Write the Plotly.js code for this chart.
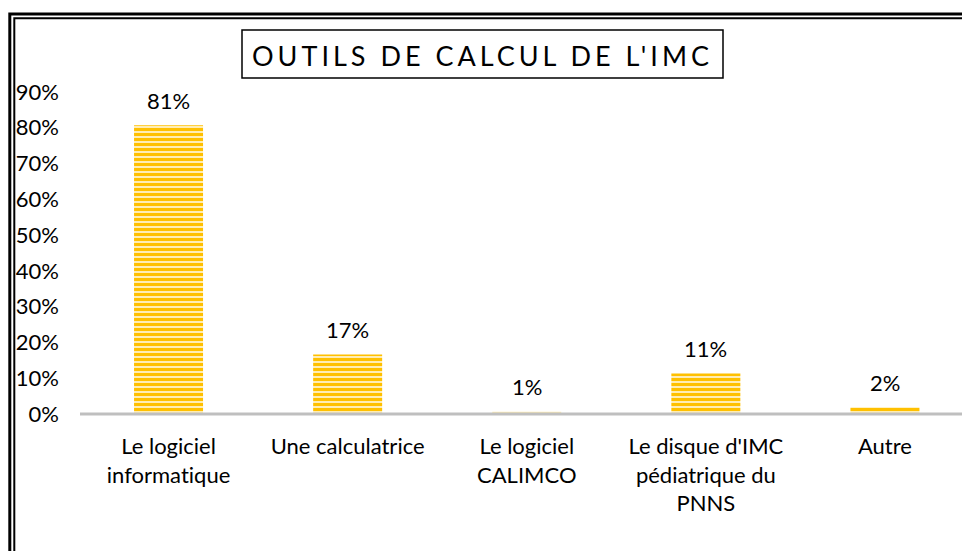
<!DOCTYPE html>
<html>
<head>
<meta charset="utf-8">
<script src="https://cdn.plot.ly/plotly-3.0.1.min.js"></script>
<style>
  html, body { margin: 0; padding: 0; background: #fff; }
  #chart { width: 962px; height: 551px; }
  #chart text { font-variant-ligatures: none; font-feature-settings: "liga" 0, "dlig" 0, "clig" 0; }
  g.annotation[data-index="0"] text { letter-spacing: 4px; }
</style>
</head>
<body>
<div id="chart"></div>
<script>
// ---- data ----
const categories = [
  "Le logiciel<br>informatique",
  "Une calculatrice",
  "Le logiciel<br>CALIMCO",
  "Le disque d'IMC<br>pédiatrique du<br>PNNS",
  "Autre"
];
const values = [0.807, 0.166, 0.006, 0.113, 0.019];
const yTickVals = [0, 0.1, 0.2, 0.3, 0.4, 0.5, 0.6, 0.7, 0.8, 0.9];
const titleText = "OUTILS DE CALCUL DE L'IMC";

// ---- layout geometry (pixels) ----
const W = 962, H = 551;
const M = { l: 79, r: 0, t: 92, b: 137 };
const PW = W - M.l - M.r, PH = H - M.t - M.b;
const px2x = px => (px - M.l) / PW;
const py2y = py => (H - M.b - py) / PH;
const catWidthPx = 179.1;

const FONT = "Lato, 'Open Sans', sans-serif";
const FS = 22;

const trace = {
  type: 'bar',
  x: categories,
  y: values,
  marker: {
    color: '#FFC000',
    line: { width: 0 },
    pattern: {
      shape: '-',
      fillmode: 'replace',
      fgcolor: '#FFC000',
      bgcolor: '#FFEDB3',
      size: 5,
      solidity: 0.6
    }
  },
  hoverinfo: 'none'
};

const labelAnns = categories.map((c, i) => ({
  xref: 'x', yref: 'y',
  x: c, y: values[i],
  text: Math.round(values[i] * 100) + '%',
  showarrow: false,
  xanchor: 'center', yanchor: 'middle',
  yshift: 25,
  font: { family: FONT, size: FS, color: '#000' }
}));

const layout = {
  width: W, height: H,
  margin: M,
  paper_bgcolor: '#fff',
  plot_bgcolor: 'rgba(0,0,0,0)',
  showlegend: false,
  bargap: 1 - 69 / catWidthPx,
  font: { family: FONT, size: FS, color: '#000' },
  xaxis: {
    type: 'category',
    range: [-0.5, -0.5 + PW / catWidthPx],
    showline: false, showgrid: false, zeroline: false,
    ticks: '',
    ticklabelstandoff: 17,
    tickfont: { family: FONT, size: FS, color: '#000' },
    fixedrange: true
  },
  yaxis: {
    range: [0, 0.9],
    tickvals: yTickVals,
    tickformat: '.0%',
    showline: false, showgrid: false, zeroline: false,
    ticks: '',
    ticklabelstandoff: 19,
    tickfont: { family: FONT, size: FS, color: '#000' },
    fixedrange: true
  },
  annotations: [
    {
      xref: 'paper', yref: 'paper',
      x: px2x(482.5), y: py2y(55),
      text: titleText,
      showarrow: false,
      xanchor: 'center', yanchor: 'middle',
      font: { family: FONT, size: 27, color: '#000' }
    }
  ].concat(labelAnns),
  shapes: [
    // x axis line
    { type: 'line', xref: 'paper', yref: 'paper', x0: px2x(80), x1: 1, y0: 0, y1: 0,
      line: { color: '#BFBFBF', width: 3 }, layer: 'above' },
    // title box
    { type: 'rect', xref: 'paper', yref: 'paper',
      x0: px2x(242), x1: px2x(723), y0: py2y(30), y1: py2y(78),
      line: { color: '#000', width: 1.5 }, fillcolor: 'rgba(0,0,0,0)' },
    // outer double frame
    { type: 'rect', xref: 'paper', yref: 'paper',
      x0: px2x(9.8), x1: px2x(990), y0: py2y(14), y1: py2y(580),
      line: { color: '#000', width: 3 }, fillcolor: 'rgba(0,0,0,0)' },
    { type: 'rect', xref: 'paper', yref: 'paper',
      x0: px2x(14.3), x1: px2x(990), y0: py2y(18.3), y1: py2y(580),
      line: { color: '#000', width: 2 }, fillcolor: 'rgba(0,0,0,0)' }
  ]
};

Plotly.newPlot('chart', [trace], layout, { staticPlot: true, displayModeBar: false });
</script>
</body>
</html>
